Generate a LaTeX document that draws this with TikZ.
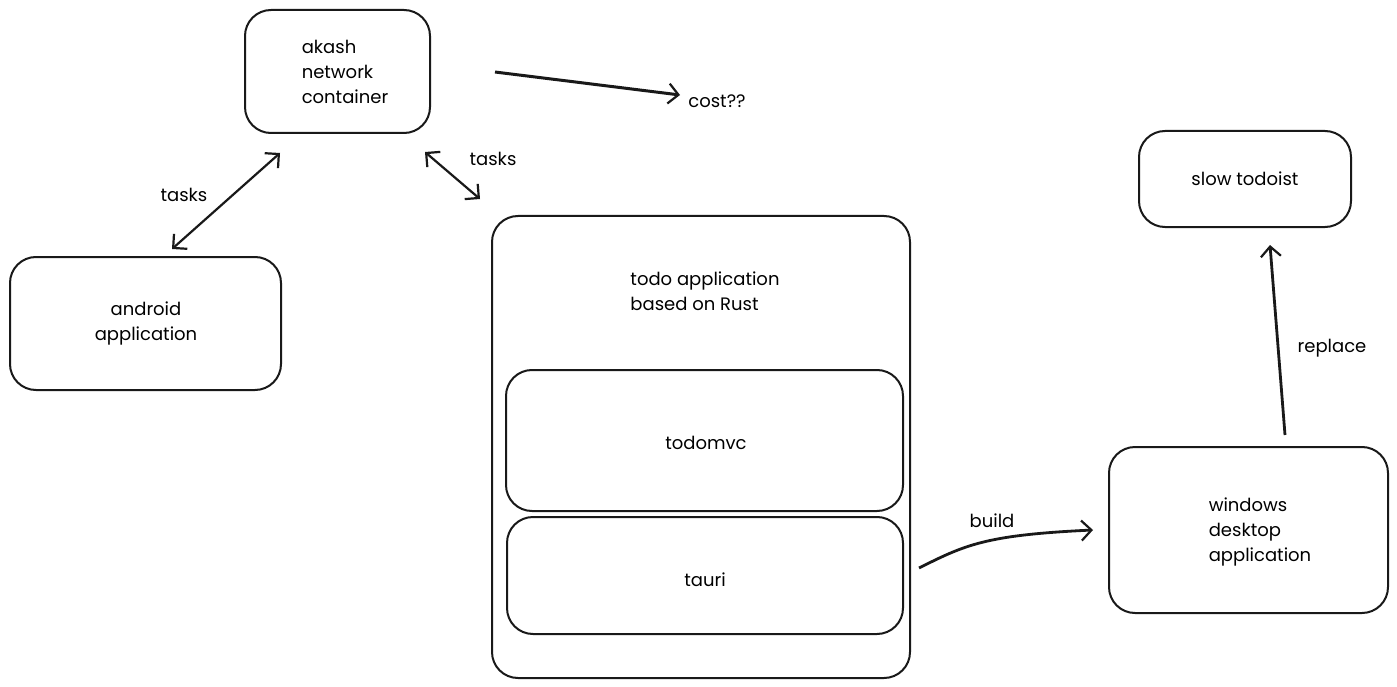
\documentclass[tikz,border=0pt]{standalone}
\usepackage{fontspec}
\setmainfont{Poppins}
\usetikzlibrary{arrows.meta}
\begin{document}
\begin{tikzpicture}[x=1pt,y=-1pt,
  box/.style={draw=black!90,line width=2pt,rounded corners=26pt,inner sep=0pt},
  lbl/.style={font=\fontsize{18}{25}\selectfont,align=left,inner sep=0pt},
  conn/.style={line width=2.2pt,draw=black!90,-{Straight Barb[length=10pt,width=20pt,line width=2.2pt]}},
  dconn/.style={line width=2.2pt,draw=black!90,{Straight Barb[length=10pt,width=20pt,line width=2.2pt]}-{Straight Barb[length=10pt,width=20pt,line width=2.2pt]}}]
\useasboundingbox (0,0) rectangle (1397,687);
% boxes
\node[box,minimum width=185pt,minimum height=123pt] (akash) at (337.5,71.5) {};
\node[lbl] (akasht) at (345,72) {akash\\network\\container};
\node[box,minimum width=271pt,minimum height=133pt] (android) at (145.5,323.5) {};
\node[lbl,align=center] (androidt) at (146,323.5) {android\\application};
\node[box,minimum width=418pt,minimum height=462pt] (todo) at (701,447) {};
\node[lbl] (todot) at (705,291.5) {todo application\\based on Rust};
\node[box,minimum width=397pt,minimum height=141pt] (todomvc) at (704.5,440.5) {};
\node[lbl] (todomvct) at (706,443) {todomvc};
\node[box,minimum width=396pt,minimum height=117pt] (tauri) at (705,575.5) {};
\node[lbl] (taurit) at (705,580) {tauri};
\node[box,minimum width=212pt,minimum height=96pt] (slow) at (1245,179) {};
\node[lbl] (slowt) at (1245,179) {slow todoist};
\node[box,minimum width=279pt,minimum height=166pt] (win) at (1248.5,530) {};
\node[lbl] (wint) at (1260,532) {windows\\desktop\\application};
\node[lbl] (cost) at (717,101) {cost??};
% connector endpoints
\coordinate (c1) at (495,72);
\coordinate (c2) at (680,95);
\coordinate (t1a) at (280,153);
\coordinate (t1b) at (172,249);
\coordinate (t2a) at (425,152);
\coordinate (t2b) at (480,199);
\coordinate (b1) at (919,568);
\coordinate (b2) at (1093,530);
\coordinate (r1) at (1285,435);
\coordinate (r2) at (1270,245);
% connectors
\draw[conn,line width=3pt] (c1) -- (c2);
\draw[dconn] (t1a) -- (t1b);
\draw[dconn] (t2a) -- (t2b);
\draw[conn,line width=2.8pt] (b1) .. controls (965,545) and (985,535) .. (b2);
\draw[conn,line width=2.8pt] (r1) -- (r2);
% labels
\node[lbl] (l1) at (184,195) {tasks};
\node[lbl] (l2) at (493,159) {tasks};
\node[lbl] (l3) at (992,521) {build};
\node[lbl] (l4) at (1332,348) {replace};
\end{tikzpicture}
\end{document}
